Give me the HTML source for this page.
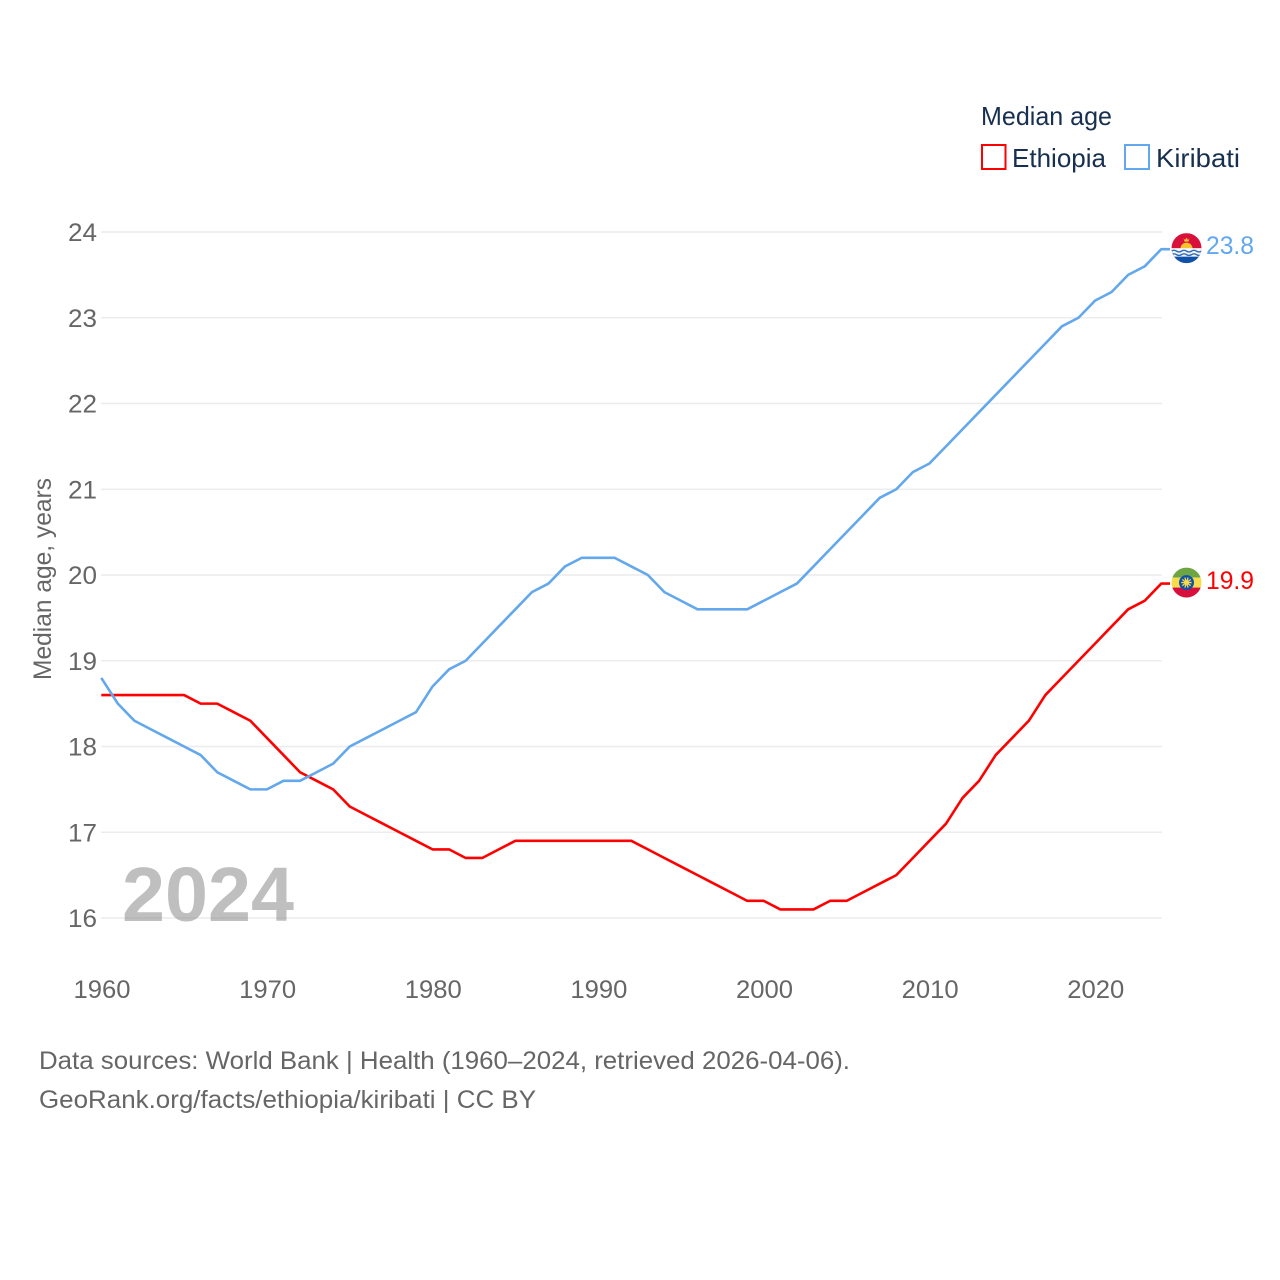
<!DOCTYPE html>
<html lang="en">
<head>
<meta charset="utf-8">
<title>Median age: Ethiopia and Kiribati</title>
<style>
html,body{margin:0;padding:0;background:#fff;width:1280px;height:1280px;overflow:hidden}
svg{display:block}
text{font-family:"Liberation Sans",sans-serif}
</style>
</head>
<body>
<svg id="chart" xmlns="http://www.w3.org/2000/svg" width="1280" height="1280" viewBox="0 0 1280 1280">
  <defs>
    <clipPath id="flag-clip"><circle cx="0" cy="0" r="15"/></clipPath>
  </defs>
  <rect width="1280" height="1280" fill="#fff"/>
  <g id="grid"></g>
  <g id="y-ticks"></g>
  <g id="x-ticks"></g>
  <text transform="translate(51,680) rotate(-90)" font-size="25" fill="#666" textLength="202" lengthAdjust="spacingAndGlyphs">Median age, years</text>
  <text x="122" y="921" font-size="77" font-weight="700" fill="#7f7f7f" fill-opacity="0.5" textLength="172" lengthAdjust="spacingAndGlyphs">2024</text>
  <g id="series"></g>
  <g id="end-markers"></g>

  <g>
    <text x="981" y="125" font-size="26" fill="#18304f" textLength="131" lengthAdjust="spacingAndGlyphs">Median age</text>
    <g>
      <rect x="982" y="145" width="23.5" height="24" fill="none" stroke="#ff0000" stroke-width="2"/>
      <text x="1012" y="167" font-size="26" fill="#18304f" textLength="94" lengthAdjust="spacingAndGlyphs">Ethiopia</text>
    </g>
    <g>
      <rect x="1125" y="145" width="24" height="24" fill="none" stroke="#63a7ec" stroke-width="2"/>
      <text x="1156" y="167" font-size="26" fill="#18304f" textLength="84" lengthAdjust="spacingAndGlyphs">Kiribati</text>
    </g>
  </g>

  <g>
    <text x="39" y="1069" font-size="25" fill="#666" textLength="811" lengthAdjust="spacingAndGlyphs">Data sources: World Bank | Health (1960–2024, retrieved 2026-04-06).</text>
    <text x="39" y="1108" font-size="25" fill="#666" textLength="497" lengthAdjust="spacingAndGlyphs">GeoRank.org/facts/ethiopia/kiribati | CC BY</text>
  </g>
</svg>
<script>
const firstYear = 1960;
const yTickValues = [16, 17, 18, 19, 20, 21, 22, 23, 24];
const xTickValues = [1960, 1970, 1980, 1990, 2000, 2010, 2020];
const ethiopiaValues = [
  18.6,18.6,18.6,18.6,18.6,18.6,18.5,18.5,18.4,18.3,
  18.1,17.9,17.7,17.6,17.5,17.3,17.2,17.1,17.0,16.9,
  16.8,16.8,16.7,16.7,16.8,16.9,16.9,16.9,16.9,16.9,
  16.9,16.9,16.9,16.8,16.7,16.6,16.5,16.4,16.3,16.2,
  16.2,16.1,16.1,16.1,16.2,16.2,16.3,16.4,16.5,16.7,
  16.9,17.1,17.4,17.6,17.9,18.1,18.3,18.6,18.8,19.0,
  19.2,19.4,19.6,19.7,19.9
];
const kiribatiValues = [
  18.8,18.5,18.3,18.2,18.1,18.0,17.9,17.7,17.6,17.5,
  17.5,17.6,17.6,17.7,17.8,18.0,18.1,18.2,18.3,18.4,
  18.7,18.9,19.0,19.2,19.4,19.6,19.8,19.9,20.1,20.2,
  20.2,20.2,20.1,20.0,19.8,19.7,19.6,19.6,19.6,19.6,
  19.7,19.8,19.9,20.1,20.3,20.5,20.7,20.9,21.0,21.2,
  21.3,21.5,21.7,21.9,22.1,22.3,22.5,22.7,22.9,23.0,
  23.2,23.3,23.5,23.6,23.8
];

const SVG_NS = 'http://www.w3.org/2000/svg';
function xScale(year) { return 101.3 + (year - 1960) * (1161.3 - 101.3) / 64; }
function yScale(value) { return 918 - (value - 16) * (918 - 232) / 8; }
function make(tag, attrs, parent) {
  const el = document.createElementNS(SVG_NS, tag);
  for (const k in attrs) el.setAttribute(k, attrs[k]);
  parent.appendChild(el);
  return el;
}

const gridGroup = document.getElementById('grid');
const yTickGroup = document.getElementById('y-ticks');
yTickValues.forEach(function (v) {
  const line = make('line', { x1: 101, x2: 1162, y1: yScale(v), y2: yScale(v), stroke: '#ececec', 'stroke-width': 1.6 }, gridGroup);
  
  
  const label = make('text', { x: 97, y: yScale(v) + 9, 'text-anchor': 'end', 'font-size': 25, fill: '#666', textLength: 29, lengthAdjust: 'spacingAndGlyphs' }, yTickGroup);
  
  
  label.textContent = String(v);
});

const xTickGroup = document.getElementById('x-ticks');
xTickValues.forEach(function (y) {
  const label = make('text', { x: xScale(y) + 0.7, y: 998, 'text-anchor': 'middle', 'font-size': 25, fill: '#666', textLength: 57, lengthAdjust: 'spacingAndGlyphs' }, xTickGroup);
  
  
  label.textContent = String(y);
});

function linePoints(values) {
  const pts = values.map(function (v, i) { return xScale(firstYear + i).toFixed(2) + ',' + yScale(v).toFixed(2); });
  pts.push('1170,' + yScale(values[values.length - 1]).toFixed(2));
  return pts.join(' ');
}
const seriesGroup = document.getElementById('series');
const ethiopiaLine = make('polyline', { points: linePoints(ethiopiaValues), fill: 'none', stroke: '#ff0000', 'stroke-width': 2.6, 'stroke-linejoin': 'round' }, seriesGroup);


const kiribatiLine = make('polyline', { points: linePoints(kiribatiValues), fill: 'none', stroke: '#63a7ec', 'stroke-width': 2.6, 'stroke-linejoin': 'round' }, seriesGroup);



const markers = document.getElementById('end-markers');

/* Kiribati flag and value */
const kLast = kiribatiValues[kiribatiValues.length - 1];
const kFlag = make('g', { transform: 'translate(1186.5,' + (yScale(kLast) - 1) + ')' }, markers);


const kClip = make('g', { 'clip-path': 'url(#flag-clip)' }, kFlag);
make('rect', { x: -15, y: -15, width: 30, height: 30, fill: '#d9113a' }, kClip);
make('circle', { cx: 0, cy: 0.5, r: 6, fill: '#f8c42e' }, kClip);
make('path', { d: 'M-3,-10 L-1.5,-8 L0,-10.5 L1.5,-8 L3,-10 L2,-6.5 L-2,-6.5 Z', fill: '#f8c42e' }, kClip);
make('rect', { x: -15, y: 0, width: 30, height: 15, fill: '#f4f6fa' }, kClip);
make('path', { d: 'M-15,3 q2.5,-1.6 5,0 t5,0 t5,0 t5,0 t5,0 t5,0 M-15,6.5 q2.5,-1.6 5,0 t5,0 t5,0 t5,0 t5,0 t5,0', fill: 'none', stroke: '#2f6cb8', 'stroke-width': 1.4 }, kClip);
make('rect', { x: -15, y: 8.5, width: 30, height: 7, fill: '#0f52a8' }, kClip);
const kValue = make('text', { x: 1206, y: yScale(kLast) + 5, 'font-size': 25, fill: '#63a7ec', textLength: 48, lengthAdjust: 'spacingAndGlyphs' }, markers);


kValue.textContent = kLast.toFixed(1);

/* Ethiopia flag and value */
const eLast = ethiopiaValues[ethiopiaValues.length - 1];
const eFlag = make('g', { transform: 'translate(1186.5,' + (yScale(eLast) - 1) + ')' }, markers);


const eClip = make('g', { 'clip-path': 'url(#flag-clip)' }, eFlag);
make('rect', { x: -15, y: -15, width: 30, height: 10, fill: '#6da544' }, eClip);
make('rect', { x: -15, y: -5, width: 30, height: 10, fill: '#f9dc4b' }, eClip);
make('rect', { x: -15, y: 5, width: 30, height: 10, fill: '#d80f3c' }, eClip);
make('circle', { cx: 0, cy: 0, r: 7.5, fill: '#0f52a8' }, eClip);
for (let a = 0; a < 5; a++) {
  const ang = a * Math.PI / 5;
  make('line', { x1: -5.2 * Math.cos(ang), y1: -5.2 * Math.sin(ang), x2: 5.2 * Math.cos(ang), y2: 5.2 * Math.sin(ang), stroke: '#f9dc4b', 'stroke-width': 1.3 }, eClip);
}
make('circle', { cx: 0, cy: 0, r: 2.4, fill: '#f9dc4b' }, eClip);
const eValue = make('text', { x: 1206, y: yScale(eLast) + 5.5, 'font-size': 25, fill: '#ff0000', textLength: 48, lengthAdjust: 'spacingAndGlyphs' }, markers);


eValue.textContent = eLast.toFixed(1);
</script>
</body>
</html>
